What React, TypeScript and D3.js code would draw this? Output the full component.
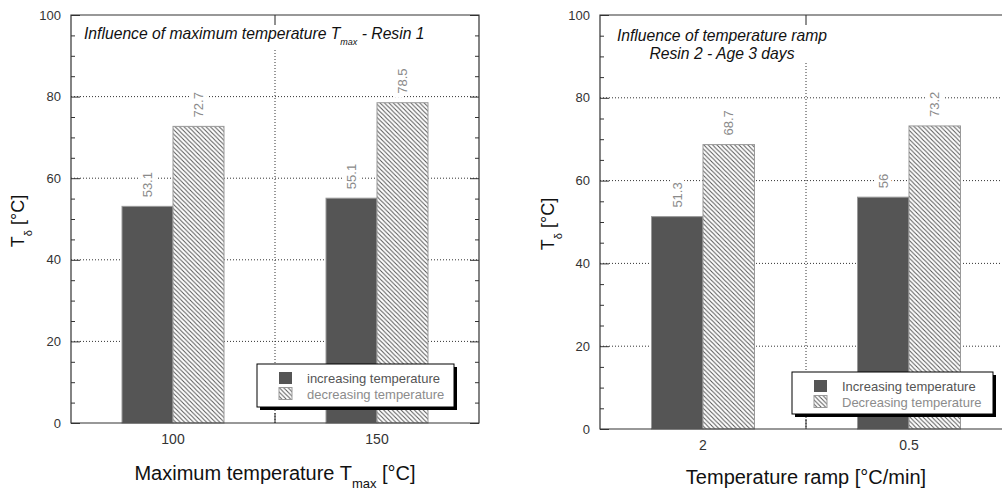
import React, { useRef, useEffect } from 'react';
import * as d3 from 'd3';

const FONT = '"Liberation Sans", Arial, sans-serif';

const seriesNames = ["increasing", "decreasing"];
const yTicks = [0, 20, 40, 60, 80, 100];
const yMinorTicks = d3.range(0, 101, 5).filter(v => v % 20 !== 0);

// Left panel: influence of maximum temperature, resin 1
const tmaxCategories = ["100", "150"];
const tmaxIncreasing = [53.1, 55.1];
const tmaxDecreasing = [72.7, 78.5];
const tmaxLegend = ["increasing temperature", "decreasing temperature"];

// Right panel: influence of temperature ramp, resin 2, age 3 days
const rampCategories = ["2", "0.5"];
const rampIncreasing = [51.3, 56];
const rampDecreasing = [68.7, 73.2];
const rampLegend = ["Increasing temperature", "Decreasing temperature"];

type Part = { text: string; sub?: boolean };

// write text with subscripts as tspans
function rich(text: any, parts: Part[], subSize: number, shift: number) {
    let down = false;
    parts.forEach(p => {
        const t = text.append("tspan").text(p.text);
        if (p.sub && !down) { t.attr("dy", shift); down = true; }
        else if (!p.sub && down) { t.attr("dy", -shift); down = false; }
        if (p.sub) t.attr("font-size", subSize);
    });
}

const Panel = ({ cfg }: { cfg: any }) => {
    const gRef = useRef<SVGGElement>(null);

    useEffect(() => {
        const g = d3.select(gRef.current);
        g.selectAll("*").remove();
        const { left, right, top, bottom } = cfg.box;

        const x = d3.scaleBand().domain(cfg.categories).range([left, right]);
        const xs = d3.scaleBand().domain(seriesNames)
            .range([x.bandwidth() * 0.25, x.bandwidth() * 0.75]);
        const y = d3.scaleLinear().domain([0, 100]).range([bottom, top]);

        const bars = cfg.categories.flatMap((c: string, i: number) => [
            { c, s: "increasing", v: cfg.increasing[i] },
            { c, s: "decreasing", v: cfg.decreasing[i] },
        ]);

        // hatch pattern
        const defs = g.append("defs");
        const pid = `hatch-${cfg.id}`;
        const hs = 4.4;
        const p = defs.append("pattern").attr("id", pid)
            .attr("patternUnits", "userSpaceOnUse").attr("width", hs).attr("height", hs);
        p.append("rect").attr("width", hs).attr("height", hs).attr("fill", "#fff");
        p.append("path")
            .attr("d", `M0,0L${hs},${hs}M${-hs / 4},${hs * 0.75}L${hs / 4},${hs * 1.25}M${hs * 0.75},${-hs / 4}L${hs * 1.25},${hs / 4}`)
            .attr("stroke", "#555").attr("stroke-width", 1);

        // grid
        g.append("g").selectAll("line")
            .data(yTicks.filter(t => t > 0 && t < 100))
            .join("line")
            .attr("x1", left).attr("x2", right)
            .attr("y1", d => y(d)).attr("y2", d => y(d))
            .attr("stroke", "#333").attr("stroke-dasharray", "1,2");
        const bounds = cfg.categories.slice(1).map((c: string) => x(c));
        g.append("g").selectAll("line")
            .data(bounds)
            .join("line")
            .attr("x1", d => d).attr("x2", d => d)
            .attr("y1", cfg.gridTop).attr("y2", bottom)
            .attr("stroke", "#333").attr("stroke-dasharray", "1,2");

        // bars
        g.append("g").selectAll("rect")
            .data(bars)
            .join("rect")
            .attr("x", (d: any) => x(d.c)! + xs(d.s)!)
            .attr("y", (d: any) => y(d.v))
            .attr("width", xs.bandwidth())
            .attr("height", (d: any) => y(0) - y(d.v))
            .attr("fill", (d: any) => d.s === "increasing" ? "#555" : `url(#${pid})`)
            .attr("stroke", "#999").attr("stroke-width", 1);

        // value labels
        g.append("g").selectAll("text")
            .data(bars)
            .join("text")
            .attr("transform", (d: any) =>
                `translate(${x(d.c)! + xs(d.s)! + xs.bandwidth() / 2},${y(d.v) - 9}) rotate(-90)`)
            .attr("dy", "0.35em")
            .attr("font-family", FONT).attr("font-size", 13)
            .attr("fill", "#8a8a8a")
            .attr("stroke", "#fff").attr("stroke-width", 8).attr("paint-order", "stroke")
            .text((d: any) => d.v);

        // axes
        const styleText = (sel: any, size: number) => sel.selectAll("text")
            .attr("font-family", FONT).attr("font-size", size).attr("fill", "#333");

        g.append("g")
            .attr("transform", `translate(${left},0)`)
            .call(d3.axisLeft(y).tickValues(yTicks).tickSize(-9).tickPadding(10))
            .call((a: any) => a.select(".domain").remove())
            .call((a: any) => styleText(a, 13));
        g.append("g")
            .attr("transform", `translate(${left},0)`)
            .call(d3.axisLeft(y).tickValues(yMinorTicks).tickSize(-4).tickFormat(() => ""))
            .call((a: any) => a.select(".domain").remove());
        g.append("g")
            .attr("transform", `translate(${right},0)`)
            .call(d3.axisRight(y).tickValues(yTicks).tickSize(-9).tickFormat(() => ""))
            .call((a: any) => a.select(".domain").remove());
        g.append("g")
            .attr("transform", `translate(${right},0)`)
            .call(d3.axisRight(y).tickValues(yMinorTicks).tickSize(-4).tickFormat(() => ""))
            .call((a: any) => a.select(".domain").remove());
        g.append("g")
            .attr("transform", `translate(0,${bottom})`)
            .call(d3.axisBottom(x).tickSize(0).tickPadding(11))
            .call((a: any) => a.select(".domain").remove())
            .call((a: any) => styleText(a, 14));
        g.append("g").selectAll("line")
            .data(bounds)
            .join("line")
            .attr("x1", d => d).attr("x2", d => d)
            .attr("y1", bottom).attr("y2", bottom - 10)
            .attr("stroke", "#222");
        g.append("g").selectAll("line")
            .data(bounds)
            .join("line")
            .attr("x1", d => d).attr("x2", d => d)
            .attr("y1", top).attr("y2", top + 10)
            .attr("stroke", "#222");
        g.selectAll(".tick line").attr("stroke", "#333");

        // frame
        g.append("path")
            .attr("d", `M${left},${top}H${right}V${bottom}H${left}Z`)
            .attr("fill", "none").attr("stroke", "#333").attr("stroke-width", 1.2);

        // legend
        const lb = cfg.legendBox;
        const lg = g.append("g");
        lg.append("rect").attr("x", lb.x + 3).attr("y", lb.y + 3)
            .attr("width", lb.w).attr("height", lb.h).attr("fill", "#000");
        lg.append("rect").attr("x", lb.x).attr("y", lb.y)
            .attr("width", lb.w).attr("height", lb.h)
            .attr("fill", "#fff").attr("stroke", "#000");
        const item = lg.selectAll("g.item")
            .data(seriesNames)
            .join("g")
            .attr("class", "item")
            .attr("transform", (d, i) => `translate(${lb.x + 22},${lb.y + 8 + i * 15.5})`);
        item.append("rect")
            .attr("width", 13).attr("height", 12)
            .attr("fill", d => d === "increasing" ? "#555" : `url(#${pid})`)
            .attr("stroke", d => d === "increasing" ? "none" : "#999");
        item.append("text")
            .attr("x", 28).attr("y", 11)
            .attr("font-family", FONT).attr("font-size", 13)
            .attr("fill", d => d === "increasing" ? "#555" : "#8c8c8c")
            .text((d, i) => cfg.legendLabels[i]);

        // panel title
        cfg.title.lines.forEach((line: any) => {
            const t = g.append("text")
                .attr("x", cfg.title.x).attr("y", line.y)
                .attr("text-anchor", cfg.title.anchor)
                .attr("font-family", FONT).attr("font-size", 15.7)
                .attr("font-style", "italic").attr("fill", "#111");
            rich(t, line.parts, 9, 6);
        });

        // axis titles
        const xt = g.append("text")
            .attr("x", cfg.box.xMid)
            .attr("y", cfg.xTitleY)
            .attr("text-anchor", "middle")
            .attr("font-family", FONT).attr("font-size", 20).attr("fill", "#111");
        rich(xt, cfg.xTitle, 13, 8);

        const yt = g.append("text")
            .attr("transform", `translate(${cfg.yTitleX},${(top + bottom) / 2 + 2}) rotate(-90)`)
            .attr("text-anchor", "middle")
            .attr("font-family", FONT).attr("font-size", 18).attr("fill", "#111");
        rich(yt, [{ text: "T" }, { text: "δ", sub: true }, { text: " [°C]" }], 11, 8);
    }, [cfg]);

    return <g ref={gRef}></g>;
};

const leftCfg = {
    id: "tmax",
    categories: tmaxCategories,
    increasing: tmaxIncreasing,
    decreasing: tmaxDecreasing,
    legendLabels: tmaxLegend,
    box: { left: 71, right: 479, top: 15, bottom: 423, xMid: 275 },
    gridTop: 50,
    legendBox: { x: 257, y: 364, w: 197, h: 43 },
    title: {
        x: 84, anchor: "start",
        lines: [{ y: 39, parts: [
            { text: "Influence of maximum temperature T" },
            { text: "max", sub: true },
            { text: " - Resin 1" },
        ] }],
    },
    xTitle: [{ text: "Maximum temperature T" }, { text: "max", sub: true }, { text: " [°C]" }],
    xTitleY: 480,
    yTitleX: 24,
};

const rightCfg = {
    id: "ramp",
    categories: rampCategories,
    increasing: rampIncreasing,
    decreasing: rampDecreasing,
    legendLabels: rampLegend,
    box: { left: 600, right: 1012, top: 15, bottom: 429, xMid: 806 },
    gridTop: 63,
    legendBox: { x: 792, y: 372, w: 201, h: 42 },
    title: {
        x: 722, anchor: "middle",
        lines: [
            { y: 41, parts: [{ text: "Influence of temperature ramp" }] },
            { y: 59, parts: [{ text: "Resin 2 - Age 3 days" }] },
        ],
    },
    xTitle: [{ text: "Temperature ramp [°C/min]" }],
    xTitleY: 484,
    yTitleX: 554,
};

export default function App() {
    return (
        <svg width={1002} height={491}
            style={{ position: "absolute", left: 0, top: 0, display: "block", background: "#fff" }}>
            <Panel cfg={leftCfg} />
            <Panel cfg={rightCfg} />
        </svg>
    );
}
